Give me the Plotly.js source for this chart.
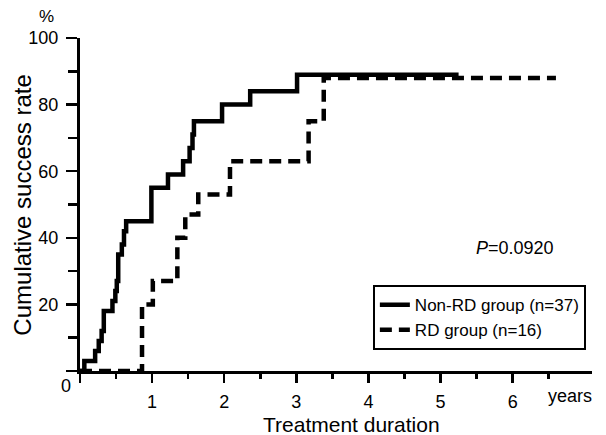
<!DOCTYPE html>
<html>
<head>
<meta charset="utf-8">
<script src="https://cdn.plot.ly/plotly-3.0.1.min.js"></script>
<style>html,body{margin:0;padding:0;background:#fff;}#chart{width:606px;height:435px;}</style>
</head>
<body>
<div id="chart"></div>
<script>
// Non-RD group (solid) step curve: time (years) and cumulative success rate (%)
var nonRdTime  = [0, 0.06, 0.21, 0.26, 0.30, 0.33, 0.45, 0.49, 0.51, 0.53, 0.58, 0.61, 0.64, 0.99, 1.22, 1.43, 1.52, 1.56, 1.58, 1.97, 2.36, 3.01, 5.25];
var nonRdRate  = [0, 3, 6, 9, 12, 18, 21, 24, 27, 35, 38, 42, 45, 55, 59, 63, 67, 71, 75, 80, 84, 89, 89];
// RD group (dashed) step curve
var rdTime = [0, 0.86, 1.01, 1.35, 1.46, 1.64, 2.08, 3.17, 3.38, 6.6];
var rdRate = [0, 20, 27, 40, 47, 53, 63, 75, 88, 88];

var seriesNames = ["Non-RD group (n=37)", "RD group (n=16)"];
var xTickVals = [0, 1, 2, 3, 4, 5, 6];
var xTickText = ["", "1", "2", "3", "4", "5", "6"];
var xMinorVals = [0.5, 1.5, 2.5, 3.5, 4.5, 5.5, 6.5];
var yTickVals = [0, 20, 40, 60, 80, 100];
var yTickText = ["", "20", "40", "60", "80", "100"];
var yMinorVals = [10, 30, 50, 70, 90];

var FONT = "Liberation Sans, Arial, Helvetica, sans-serif";

var traces = [
  {x: nonRdTime, y: nonRdRate, mode: "lines", line: {shape: "hv", color: "#000", width: 4.5},
   name: seriesNames[0], legendgroup: "a"},
  {x: rdTime, y: rdRate, mode: "lines", line: {shape: "hv", color: "#000", width: 4.5, dash: "12px,7px"},
   name: seriesNames[1], legendgroup: "b"}
];

var layout = {
  width: 606, height: 435,
  margin: {l: 80, r: 14, t: 38, b: 64},
  paper_bgcolor: "#fff", plot_bgcolor: "#fff",
  font: {family: FONT, color: "#000", size: 18},
  showlegend: true,
  legend: {x: 0.572, y: 0.258, xanchor: "left", yanchor: "top",
           bgcolor: "#fff", bordercolor: "#000", borderwidth: 2,
           font: {family: FONT, size: 17, color: "#000"},
           traceorder: "grouped", tracegroupgap: 0, itemwidth: 30},
  xaxis: {range: [0, 7.1], showgrid: false, zeroline: false, showline: true, linecolor: "#000", linewidth: 3,
          tickmode: "array", tickvals: xTickVals, ticktext: xTickText, ticks: "outside", ticklen: 9, tickwidth: 2.5, tickcolor: "#000",
          ticklabelstandoff: 3, tickfont: {family: FONT, size: 18, color: "#000"},
          minor: {tickmode: "array", tickvals: xMinorVals, ticks: "outside", ticklen: 5, tickwidth: 2.5, tickcolor: "#000", showgrid: false},
          fixedrange: true},
  yaxis: {range: [0, 100], showgrid: false, zeroline: false, showline: true, linecolor: "#000", linewidth: 3,
          tickmode: "array", tickvals: yTickVals, ticktext: yTickText, ticks: "outside", ticklen: 11, tickwidth: 2.5, tickcolor: "#000",
          ticklabelstandoff: 4, tickfont: {family: FONT, size: 18, color: "#000"},
          minor: {tickmode: "array", tickvals: yMinorVals, ticks: "outside", ticklen: 9, tickwidth: 2.5, tickcolor: "#000", showgrid: false},
          fixedrange: true},
  annotations: [
    {text: "%", xref: "paper", yref: "paper", x: -0.0664, y: 1.065, xanchor: "center", yanchor: "middle", showarrow: false, font: {size: 17}},
    {text: "0", xref: "paper", yref: "paper", x: -0.0273, y: -0.045, xanchor: "center", yanchor: "middle", showarrow: false, font: {size: 18}},
    {text: "years", xref: "paper", yref: "paper", x: 0.958, y: -0.075, xanchor: "center", yanchor: "middle", showarrow: false, font: {size: 18}},
    {text: "Treatment duration", xref: "paper", yref: "paper", x: 0.531, y: -0.16, xanchor: "center", yanchor: "middle", showarrow: false, font: {size: 21}},
    {text: "Cumulative success rate", xref: "paper", yref: "paper", x: -0.113, y: 0.497, xanchor: "center", yanchor: "middle", textangle: -90, showarrow: false, font: {size: 24}},
    {text: "<i>P</i>=0.0920", xref: "paper", yref: "paper", x: 0.85, y: 0.37, xanchor: "center", yanchor: "middle", showarrow: false, font: {size: 18}}
  ]
};

Plotly.newPlot("chart", traces, layout, {displayModeBar: false, staticPlot: true});
</script>
</body>
</html>
